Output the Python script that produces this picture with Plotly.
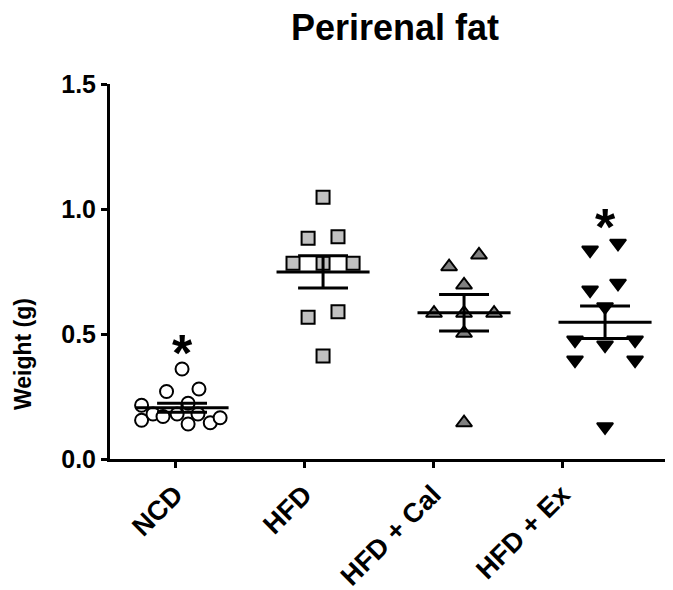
import numpy as np
import plotly.graph_objects as go

# ---------------- data ----------------
groups = ["NCD", "HFD", "HFD + Cal", "HFD + Ex"]

ncd = [0.36, 0.27, 0.28, 0.215, 0.223, 0.155, 0.18, 0.17, 0.18, 0.14, 0.18, 0.145, 0.165]
hfd = [1.047, 0.883, 0.889, 0.783, 0.783, 0.783, 0.567, 0.589, 0.412]
hfd_cal = [0.816, 0.769, 0.696, 0.583, 0.583, 0.583, 0.503, 0.145]
hfd_ex = [0.863, 0.836, 0.703, 0.676, 0.609, 0.476, 0.456, 0.476, 0.396, 0.396, 0.129]

significant = [True, False, False, True]

y_ticks = [0.0, 0.5, 1.0, 1.5]

# horizontal scatter spread of the points (fraction of group spacing)
ncd_dx = [0.0, -0.11, 0.12, -0.287, 0.043, -0.287, -0.206, -0.135, -0.035, 0.043, 0.113, 0.2, 0.27]
hfd_dx = [0.0, -0.106, 0.106, -0.213, 0.0, 0.213, -0.106, 0.106, 0.0]
cal_dx = [0.106, -0.106, 0.0, -0.213, 0.0, 0.213, 0.0, 0.0]
ex_dx = [0.092, -0.106, 0.092, -0.106, 0.0, -0.213, 0.0, 0.213, -0.213, 0.213, 0.0]

# ---------------- styles ----------------
FONT = "Liberation Sans, Arial, sans-serif"
styles = [
    dict(symbol="circle", size=13, color="white"),
    dict(symbol="square", size=13, color="#c0c0c0"),
    dict(symbol="triangle-up", size=14, color="#808080"),
    dict(symbol="triangle-down", size=14, color="black"),
]
values = [ncd, hfd, hfd_cal, hfd_ex]
offsets = [ncd_dx, hfd_dx, cal_dx, ex_dx]

MEAN_HALF = 0.33
SEM_HALF = 0.177

# page has an 8px body margin; figure is sized to fill the rest of the window
W, H = 665, 582
ML, MT, MB = 102, 76, 131
plot_w, plot_h = W - ML, H - MT - MB

fig = go.Figure()

# invisible anchor trace so the category (tick) axis is drawn
fig.add_trace(go.Scatter(x=list(range(len(groups))), y=[0] * len(groups), xaxis="x", yaxis="y",
                         mode="markers", marker=dict(opacity=0), showlegend=False, hoverinfo="skip"))

for i, (vals, dx, st) in enumerate(zip(values, offsets, styles)):
    xs = [i + d for d in dx]
    fig.add_trace(go.Scatter(
        x=xs, y=vals, mode="markers", xaxis="x2", yaxis="y",
        marker=dict(symbol=st["symbol"], size=st["size"], color=st["color"],
                    line=dict(color="black", width=2)),
        showlegend=False, hoverinfo="y"))

for i, vals in enumerate(values):
    arr = np.array(vals)
    m = arr.mean()
    sem = arr.std(ddof=1) / np.sqrt(len(arr))
    fig.add_trace(go.Scatter(x=[i - MEAN_HALF, i + MEAN_HALF], y=[m, m], mode="lines",
                             xaxis="x2", yaxis="y", line=dict(color="black", width=3),
                             showlegend=False, hoverinfo="skip"))
    fig.add_trace(go.Scatter(
        x=[i - SEM_HALF, i + SEM_HALF, None, i, i, None, i - SEM_HALF, i + SEM_HALF],
        y=[m + sem, m + sem, None, m + sem, m - sem, None, m - sem, m - sem],
        mode="lines", xaxis="x2", yaxis="y", line=dict(color="black", width=3),
        showlegend=False, hoverinfo="skip"))

for i, (vals, sig) in enumerate(zip(values, significant)):
    if sig:
        fig.add_annotation(x=i, y=max(vals), xref="x2", yref="y", text="<b>*</b>",
                           showarrow=False, yanchor="middle", yshift=16,
                           font=dict(family=FONT, size=52, color="black"))

# y-axis title placed like the original (below the axis centre)
fig.add_annotation(x=(15 - ML) / plot_w, y=(H + 8 - MB - 354) / plot_h, xref="paper", yref="paper",
                   text="<b>Weight (g)</b>", showarrow=False, textangle=-90,
                   xanchor="center", yanchor="middle",
                   font=dict(family=FONT, size=23, color="black"))

fig.update_layout(
    width=W, height=H,
    margin=dict(l=ML, r=0, t=MT, b=MB),
    paper_bgcolor="white", plot_bgcolor="white",
    font=dict(family=FONT, color="black"),
    title=dict(text="<b>Perirenal fat</b>", x=387 / W, xref="container", xanchor="center",
               y=1 - 19 / H, yref="container", yanchor="middle",
               font=dict(family=FONT, size=36, color="black")),
    xaxis=dict(range=[-0.504, 3.86], tickvals=list(range(len(groups))),
               ticktext=[f"<b>{g}</b>" for g in groups],
               tickangle=-45, showgrid=False, zeroline=False,
               showline=True, linecolor="black", linewidth=3,
               ticks="outside", ticklen=6, tickwidth=3, tickcolor="black",
               tickfont=dict(family=FONT, size=27, color="black")),
    xaxis2=dict(range=[-0.511, 3.482], overlaying="x", visible=False, showgrid=False, zeroline=False),
    yaxis=dict(range=[0, 1.5], tickvals=y_ticks, ticktext=[f"<b>{v:.1f}</b>" for v in y_ticks],
               showgrid=False, zeroline=False,
               showline=True, linecolor="black", linewidth=3,
               ticks="outside", ticklen=6, tickwidth=3, tickcolor="black",
               tickfont=dict(family=FONT, size=25, color="black")),
)

fig.write_html("out.html")
